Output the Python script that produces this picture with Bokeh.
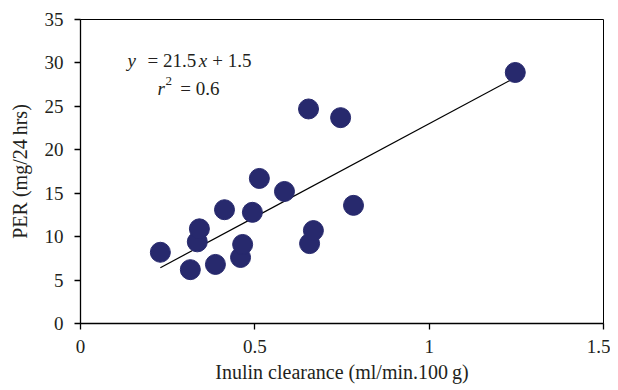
from bokeh.plotting import figure
from bokeh.models import Range1d, Label, FixedTicker, ColumnDataSource
from bokeh.embed import file_html
from bokeh.resources import INLINE

# data
inulin = [0.229, 0.315, 0.335, 0.341, 0.387, 0.413, 0.459, 0.465, 0.493,
          0.513, 0.585, 0.654, 0.657, 0.668, 0.746, 0.783, 1.247]
per = [8.2, 6.2, 9.4, 10.9, 6.8, 13.1, 7.6, 9.1, 12.8,
       16.7, 15.2, 24.7, 9.2, 10.7, 23.7, 13.6, 28.9]
slope = 21.5
intercept = 1.5
x_ticks = [0, 0.5, 1, 1.5]
y_ticks = [0, 5, 10, 15, 20, 25, 30, 35]

FONT = "Liberation Serif"
TXT = "#231f20"
DOT = "#27296d"

p = figure(frame_width=523, frame_height=304, output_backend="svg", toolbar_location=None,
           x_range=Range1d(0, 1.5), y_range=Range1d(0, 35),
           min_border_left=80, min_border_right=7, min_border_top=19,
           min_border_bottom=0)
p.xgrid.visible = False
p.ygrid.visible = False
p.outline_line_color = "black"
p.outline_line_width = 1
p.background_fill_color = "white"
p.border_fill_color = "white"

for ax, ticks, label in ((p.xaxis, x_ticks, "Inulin clearance (ml/min.100\u2009g)"),
                         (p.yaxis, y_ticks, "PER (mg/24\u2009hrs)")):
    ax.ticker = FixedTicker(ticks=ticks)
    ax.axis_label = label
    ax.axis_label_text_font = FONT
    ax.axis_label_text_font_style = "normal"
    ax.axis_label_text_font_size = "20px"
    ax.axis_label_text_color = TXT
    ax.major_label_text_font = FONT
    ax.major_label_text_font_size = "19px"
    ax.major_label_text_color = TXT
    ax.axis_line_color = "black"
    ax.axis_line_width = 1.3
    ax.major_tick_line_color = "black"
    ax.major_tick_line_width = 1.3
    ax.major_tick_in = 0
    ax.major_tick_out = 6
    ax.minor_tick_line_color = None

p.xaxis.major_label_standoff = 10
p.yaxis.major_label_standoff = 11
p.xaxis.axis_label_standoff = 5
p.yaxis.axis_label_standoff = 11

# regression line
xmin, xmax = min(inulin), max(inulin)
src_line = ColumnDataSource(dict(x=[xmin, xmax],
                                 y=[slope * xmin + intercept, slope * xmax + intercept]))
p.line("x", "y", source=src_line, line_color="black", line_width=1.2)

p.scatter(inulin, per, size=20, fill_color=DOT, line_color=DOT)

def lab(x, y, text, style="normal", size="19px"):
    p.add_layout(Label(x=x, y=y, text=text, text_font=FONT, text_font_style=style,
                       text_font_size=size, text_color=TXT, text_align="left",
                       text_baseline="alphabetic"))

lab(0.135, 30.28, "y", "italic")
lab(0.192, 30.28, "= 21.5")
lab(0.339, 30.28, "x", "italic")
lab(0.378, 30.28, "+ 1.5")
lab(0.221, 27.06, "r", "italic")
lab(0.244, 27.9, "2", size="13px")
lab(0.286, 27.06, "= 0.6")

open("out.html", "w").write(file_html(p, INLINE))
